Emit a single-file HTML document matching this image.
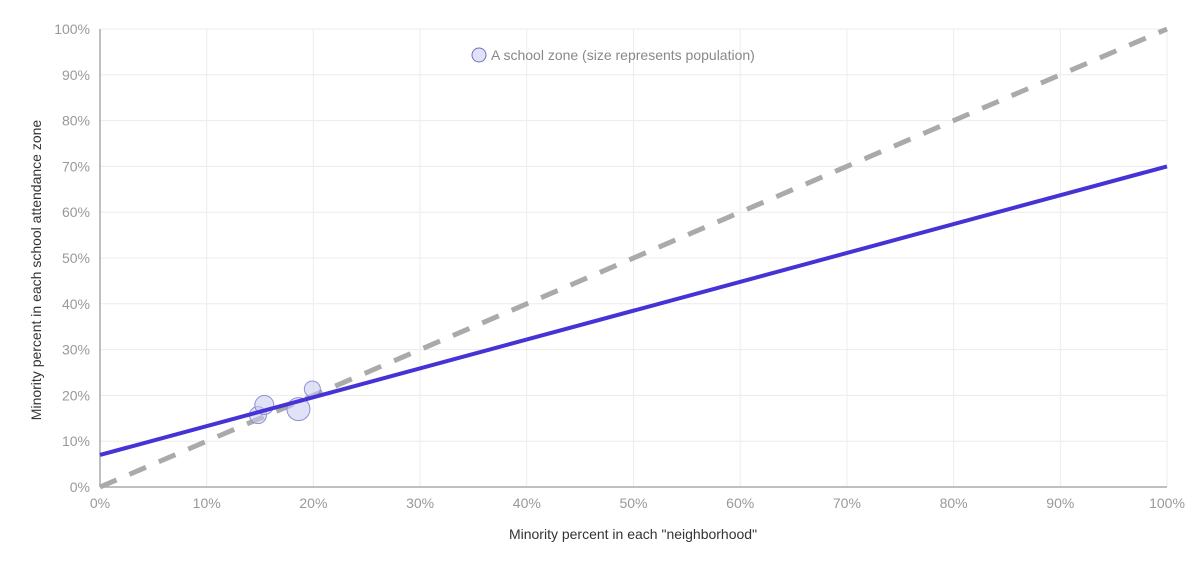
<!DOCTYPE html>
<html><head><meta charset="utf-8"><style>
body{margin:0;background:#fff;}
svg text{font-family:"Liberation Sans",sans-serif;}
</style></head><body>
<svg width="1200" height="569" id="c"></svg>
<script>
const xTicks=[0,10,20,30,40,50,60,70,80,90,100];
const yTicks=[0,10,20,30,40,50,60,70,80,90,100];
const zoneX=[14.8,15.4,18.6,19.9];
const zoneY=[15.7,17.9,17.0,21.4];
const zoneR=[8.5,9.5,11.5,8];
const fitLine=[[0,7],[100,70]];
const equalLine=[[0,0],[100,100]];
const NS="http://www.w3.org/2000/svg";
const svg=document.getElementById('c');
const X=v=>100+v*10.67, Y=v=>487-v*4.58;
function mk(t,a,p){const e=document.createElementNS(NS,t);for(const k in a)e.setAttribute(k,a[k]);(p||svg).appendChild(e);return e;}
yTicks.forEach(t=>{
 const l=mk('line',{x1:100,x2:1167,y1:Y(t),y2:Y(t),stroke:'#ececec'});
 
 
 const tx=mk('text',{x:90,y:Y(t)+5,'text-anchor':'end','font-size':14,fill:'#999'});tx.textContent=t+'%';
 
 
});
xTicks.forEach(t=>{
 const l=mk('line',{x1:X(t),x2:X(t),y1:29,y2:487,stroke:'#ececec'});
 
 
 const tx=mk('text',{x:X(t),y:508,'text-anchor':'middle','font-size':14,fill:'#999'});tx.textContent=t+'%';
 
 
});
const ax=mk('line',{x1:100,x2:100,y1:29,y2:487,stroke:'#aaa','stroke-width':1.5});


const bx=mk('line',{x1:100,x2:1167,y1:487,y2:487,stroke:'#aaa','stroke-width':1.5});


const eq=mk('line',{x1:X(equalLine[0][0]),y1:Y(equalLine[0][1]),x2:X(equalLine[1][0]),y2:Y(equalLine[1][1]),stroke:'#aaa','stroke-width':5,'stroke-dasharray':'18,14'});


zoneX.forEach((v,i)=>{
 const c=mk('circle',{cx:X(v),cy:Y(zoneY[i]),r:zoneR[i],fill:'rgba(200,200,240,0.55)',stroke:'#8f8fd0','stroke-width':1});
 
 
});
const fl=mk('line',{x1:X(fitLine[0][0]),y1:Y(fitLine[0][1]),x2:X(fitLine[1][0]),y2:Y(fitLine[1][1]),stroke:'#4533d6','stroke-width':4});


const lc=mk('circle',{cx:479,cy:55,r:7,fill:'rgba(200,200,240,0.55)',stroke:'#7070c0'});


const lt=mk('text',{x:491,y:60,'font-size':14,fill:'#888'});lt.textContent='A school zone (size represents population)';


const xt=mk('text',{x:633,y:539,'text-anchor':'middle','font-size':14,fill:'#333'});xt.textContent='Minority percent in each "neighborhood"';


const yt=mk('text',{x:0,y:0,'text-anchor':'middle','font-size':14,fill:'#333',transform:'translate(41,270) rotate(-90)'});yt.textContent='Minority percent in each school attendance zone';


</script>
</body></html>
